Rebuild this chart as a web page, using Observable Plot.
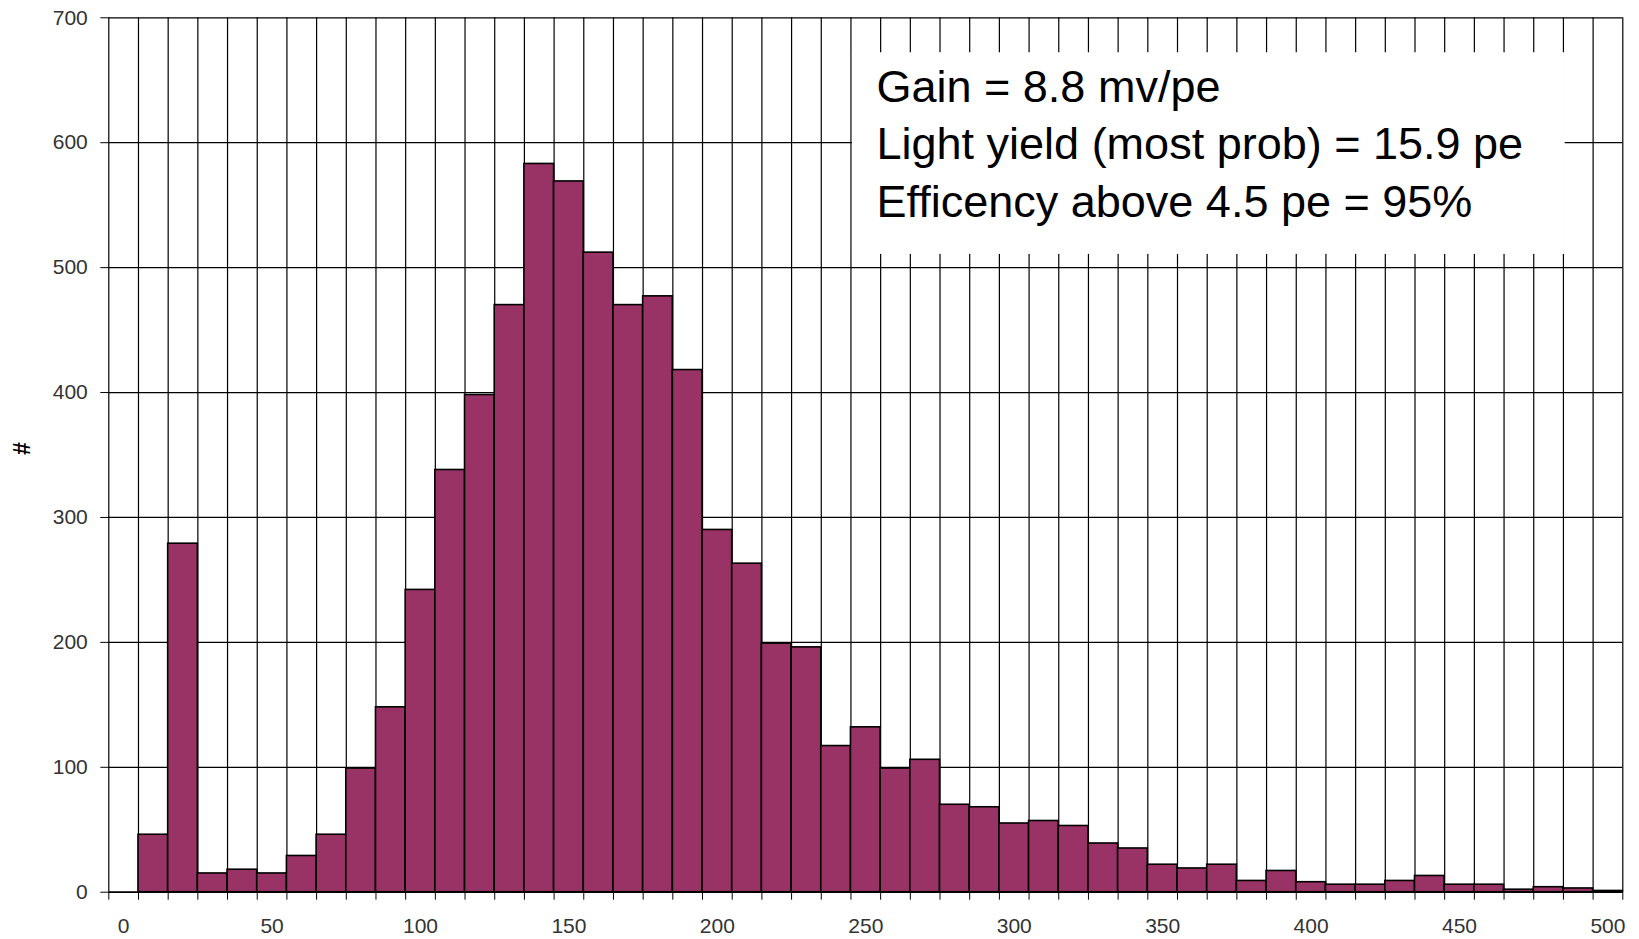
<!DOCTYPE html>
<html>
<head>
<meta charset="utf-8">
<script src="https://cdn.jsdelivr.net/npm/d3@7"></script>
<script src="https://cdn.jsdelivr.net/npm/@observablehq/plot@0.6"></script>
<style>
  html, body { margin: 0; padding: 0; background: #fff; }
  #chart svg { display: block; }
</style>
</head>
<body>
<div id="chart"></div>
<script>
// Histogram categories (bin centres) and counts
const categories = [0,10,20,30,40,50,60,70,80,90,100,110,120,130,140,150,160,170,180,190,200,
  210,220,230,240,250,260,270,280,290,300,310,320,330,340,350,360,370,380,390,400,
  410,420,430,440,450,460,470,480,490,500];
const counts = [0,46,279,15,18,15,29,46,99,148,242,338,398,470,583,569,512,470,477,418,290,
  263,199,196,117,132,99,106,70,68,55,57,53,39,35,22,19,22,9,17,8,
  6,6,9,13,6,6,2,4,3,1];
const xTickLabels = [0,50,100,150,200,250,300,350,400,450,500];
const yTicks = [0,100,200,300,400,500,600,700];
const yLabel = "#";
const annotationLines = [
  "Gain = 8.8 mv/pe",
  "Light yield (most prob) = 15.9 pe",
  "Efficency above 4.5 pe = 95%"
];

const binWidth = 10;
const table = categories.map((c, i) => ({c, n: counts[i]}));
const boundaries = categories.map(c => c - binWidth / 2).concat([categories[categories.length - 1] + binWidth / 2]);

const font = "Arial, 'Liberation Sans', Helvetica, sans-serif";

const chart = Plot.plot({
  width: 1639,
  height: 939,
  marginLeft: 108.3,
  marginRight: 16.7,
  marginTop: 17.3,
  marginBottom: 47.3,
  style: {fontFamily: font, background: "#fff", overflow: "visible"},
  x: {domain: [boundaries[0], boundaries[boundaries.length - 1]]},
  y: {domain: [0, 700]},
  marks: [
    // horizontal gridlines
    Plot.ruleY(yTicks, {stroke: "#000", strokeWidth: 1.2}),
    // vertical gridlines at category boundaries
    Plot.ruleX(boundaries, {stroke: "#000", strokeWidth: 1.2}),
    // white annotation box
    Plot.rect([0], {x1: 245.5, x2: 485.6, y1: 510.6, y2: 672, fill: "#fff", stroke: "none"}),
    // bars
    Plot.rectY(table, {
      x1: d => d.c - binWidth / 2,
      x2: d => d.c + binWidth / 2,
      y: "n",
      fill: "#993366",
      stroke: "#000",
      strokeWidth: 1.6,
      inset: 0
    }),
    // baseline
    Plot.ruleY([0], {stroke: "#000", strokeWidth: 1.4}),
    // y axis
    Plot.axisY({ticks: yTicks, tickSize: 8, tickPadding: 13, fontSize: 21, fill: "#333", stroke: "#000", label: null}),
    // x axis tick marks at category boundaries
    Plot.axisX({ticks: boundaries, tickSize: 8, tickFormat: () => "", stroke: "#000", label: null}),
    // x axis labels
    Plot.axisX({ticks: xTickLabels, tickSize: 0, tickPadding: 26, fontSize: 21, fill: "#333", label: null}),
    // y label
    Plot.text([yLabel], {frameAnchor: "left", dx: -86.3, rotate: -90, fontSize: 23, fontWeight: "bold", fill: "#000"}),
    // annotation text
    Plot.text([annotationLines.join("\n")], {
      frameAnchor: "top-left",
      dx: 767.7,
      dy: 43.3,
      textAnchor: "start",
      lineAnchor: "top",
      lineHeight: 1.278,
      fontSize: 45,
      fill: "#000"
    })
  ]
});

document.getElementById("chart").appendChild(chart);
</script>
</body>
</html>
